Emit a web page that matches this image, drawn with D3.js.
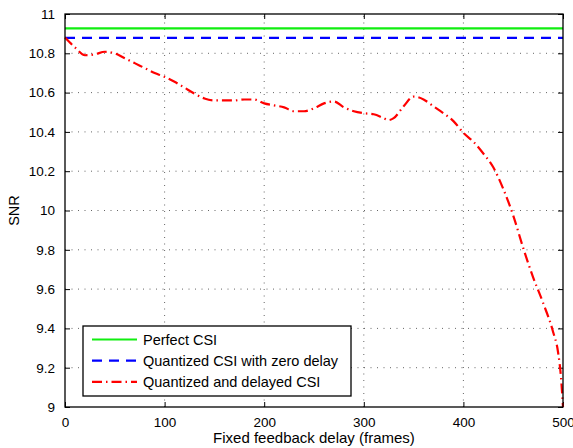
<!DOCTYPE html>
<html>
<head>
<meta charset="utf-8">
<script src="https://cdn.jsdelivr.net/npm/d3@7"></script>
<style>
  body { margin: 0; background: #fff; }
  text { font-family: "Liberation Sans", Arial, sans-serif; fill: #000; }
</style>
</head>
<body>
<div id="chart"></div>
<script>
// chart values
const delays = [0, 10, 20, 30, 40, 50, 60, 70, 80, 90, 100, 110, 120, 130, 140, 150, 160, 170, 180, 190,
    200, 210, 220, 230, 240, 250, 260, 270, 280, 290, 300, 310, 320, 325, 330, 340, 350, 360, 370, 380,
    390, 400, 410, 420, 430, 440, 450, 460, 470, 480, 490, 495, 498, 500];
const delayedSnr = [10.88, 10.83, 10.79, 10.795, 10.808, 10.80, 10.775, 10.75, 10.725, 10.70, 10.68, 10.655,
    10.625, 10.595, 10.57, 10.56, 10.56, 10.56, 10.565, 10.565, 10.545, 10.535, 10.525, 10.505, 10.505,
    10.52, 10.545, 10.555, 10.525, 10.505, 10.495, 10.49, 10.47, 10.46, 10.47, 10.53, 10.58, 10.565, 10.53,
    10.495, 10.455, 10.395, 10.35, 10.29, 10.22, 10.11, 9.975, 9.81, 9.66, 9.53, 9.383, 9.28, 9.15, 9.0];
const perfectSnr = 10.927;
const zeroDelaySnr = 10.879;
const xTicks = [0, 100, 200, 300, 400, 500];
const yTicks = [9, 9.2, 9.4, 9.6, 9.8, 10, 10.2, 10.4, 10.6, 10.8, 11];
const legendLabels = ["Perfect CSI", "Quantized CSI with zero delay", "Quantized and delayed CSI"];

const width = 573, height = 448;
const margin = { top: 14, right: 10, bottom: 41, left: 65 };

const svg = d3.select("#chart").append("svg")
    .attr("width", width)
    .attr("height", height);

const x = d3.scaleLinear().domain([0, 500]).range([margin.left, width - margin.right]);
const y = d3.scaleLinear().domain([9, 11]).range([height - margin.bottom, margin.top]);

// dotted grid
const grid = svg.append("g").attr("stroke", "#555").attr("stroke-width", 0.9).attr("stroke-dasharray", "1,5.5");
grid.selectAll("line.vx").data(xTicks.slice(1, -1)).join("line")
    .attr("x1", d => x(d)).attr("x2", d => x(d))
    .attr("y1", y(9)).attr("y2", y(11));
grid.selectAll("line.hy").data(yTicks.slice(1, -1)).join("line")
    .attr("x1", x(0)).attr("x2", x(500))
    .attr("y1", d => y(d)).attr("y2", d => y(d));

// axes with inward ticks (MATLAB style)
const fmtY = d => d3.format("~g")(d);
svg.append("g").attr("transform", `translate(0,${y(9)})`)
    .call(d3.axisBottom(x).tickValues(xTicks).tickSizeInner(-5).tickSizeOuter(0).tickPadding(10))
    .call(g => g.selectAll("text").attr("font-size", 13.5));
svg.append("g").attr("transform", `translate(0,${y(11)})`)
    .call(d3.axisTop(x).tickValues(xTicks).tickSizeInner(-5).tickSizeOuter(0).tickFormat(""));
svg.append("g").attr("transform", `translate(${x(0)},0)`)
    .call(d3.axisLeft(y).tickValues(yTicks).tickFormat(fmtY).tickSizeInner(-5).tickSizeOuter(0).tickPadding(10))
    .call(g => g.selectAll("text").attr("font-size", 13.5));
svg.append("g").attr("transform", `translate(${x(500)},0)`)
    .call(d3.axisRight(y).tickValues(yTicks).tickSizeInner(-5).tickSizeOuter(0).tickFormat(""));
svg.selectAll(".domain").remove();
svg.selectAll(".tick line").attr("stroke", "#000").attr("stroke-width", 1);

// series
const line = d3.line().x(d => x(d[0])).y(d => y(d[1])).curve(d3.curveMonotoneX);

svg.append("line")
    .attr("x1", x(0)).attr("x2", x(500))
    .attr("y1", y(perfectSnr)).attr("y2", y(perfectSnr))
    .attr("stroke", "#11ee11").attr("stroke-width", 2.2);

svg.append("line")
    .attr("x1", x(0)).attr("x2", x(500))
    .attr("y1", y(zeroDelaySnr)).attr("y2", y(zeroDelaySnr))
    .attr("stroke", "#0000ff").attr("stroke-width", 2.2).attr("stroke-dasharray", "10,7");

svg.append("path")
    .datum(delays.map((d, i) => [d, delayedSnr[i]]))
    .attr("d", line)
    .attr("fill", "none")
    .attr("stroke", "#ff0000").attr("stroke-width", 2.2)
    .attr("stroke-dasharray", "10,4,1.5,4");

// box
svg.append("rect")
    .attr("x", x(0)).attr("y", y(11))
    .attr("width", x(500) - x(0)).attr("height", y(9) - y(11))
    .attr("fill", "none").attr("stroke", "#000").attr("stroke-width", 1.3);

// axis labels
svg.append("text")
    .attr("x", (x(0) + x(500)) / 2).attr("y", 443)
    .attr("text-anchor", "middle").attr("font-size", 15)
    .text("Fixed feedback delay (frames)");
svg.append("text")
    .attr("transform", `translate(19,${(y(9) + y(11)) / 2}) rotate(-90)`)
    .attr("text-anchor", "middle").attr("font-size", 14.5)
    .text("SNR");

// legend
const legend = svg.append("g").attr("transform", "translate(83,326)");
legend.append("rect")
    .attr("width", 268).attr("height", 70)
    .attr("fill", "#fff").attr("stroke", "#000").attr("stroke-width", 1.3);
const legendStyles = [
    { color: "#11ee11", dash: null },
    { color: "#0000ff", dash: "10,7" },
    { color: "#ff0000", dash: "10,4,1.5,4" }
];
legendLabels.forEach((label, i) => {
    const ly = 13.5 + i * 21.2;
    legend.append("line")
        .attr("x1", 9).attr("x2", 54).attr("y1", ly).attr("y2", ly)
        .attr("stroke", legendStyles[i].color).attr("stroke-width", 2.2)
        .attr("stroke-dasharray", legendStyles[i].dash);
    legend.append("text")
        .attr("x", 60).attr("y", ly + 5)
        .attr("font-size", 14.5)
        .text(label);
});
</script>
</body>
</html>
